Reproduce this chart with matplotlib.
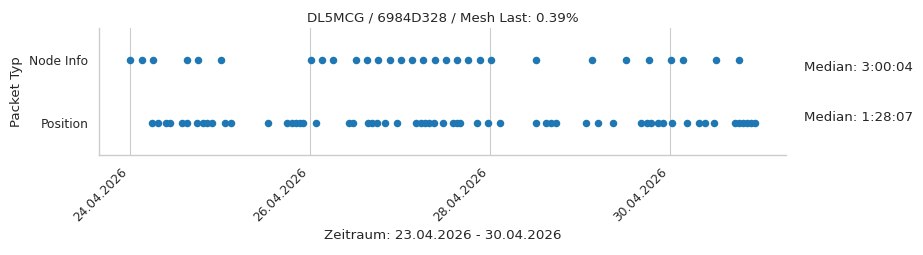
import matplotlib
matplotlib.use("Agg")
import matplotlib.pyplot as plt
import matplotlib.dates as mdates
import pandas as pd

categories = ["Node Info", "Position"]

node_info_times = [
    "2026-04-24 00:05", "2026-04-24 03:17", "2026-04-24 06:13", "2026-04-24 15:17",
    "2026-04-24 18:13", "2026-04-25 00:21", "2026-04-26 00:21", "2026-04-26 03:17",
    "2026-04-26 06:13", "2026-04-26 12:21", "2026-04-26 15:17", "2026-04-26 18:13",
    "2026-04-26 21:25", "2026-04-27 00:21", "2026-04-27 03:17", "2026-04-27 06:13",
    "2026-04-27 09:25", "2026-04-27 12:21", "2026-04-27 15:17", "2026-04-27 18:13",
    "2026-04-27 21:25", "2026-04-28 00:21", "2026-04-28 12:21", "2026-04-29 03:17",
    "2026-04-29 12:21", "2026-04-29 18:29", "2026-04-30 00:21", "2026-04-30 03:33",
    "2026-04-30 12:16", "2026-04-30 18:29",
]

position_times = [
    "2026-04-24 05:57", "2026-04-24 07:23", "2026-04-24 09:31", "2026-04-24 10:45",
    "2026-04-24 13:52", "2026-04-24 15:17", "2026-04-24 17:57", "2026-04-24 19:33",
    "2026-04-24 20:37", "2026-04-24 21:57", "2026-04-25 01:25", "2026-04-25 02:51",
    "2026-04-25 12:53", "2026-04-25 17:57", "2026-04-25 19:07", "2026-04-25 20:16",
    "2026-04-25 21:25", "2026-04-25 22:13", "2026-04-26 01:41", "2026-04-26 10:29",
    "2026-04-26 11:28", "2026-04-26 15:33", "2026-04-26 16:43", "2026-04-26 18:03",
    "2026-04-26 20:05", "2026-04-26 23:17", "2026-04-27 04:27", "2026-04-27 05:41",
    "2026-04-27 06:40", "2026-04-27 07:49", "2026-04-27 09:04", "2026-04-27 11:33",
    "2026-04-27 14:13", "2026-04-27 15:17", "2026-04-27 16:11", "2026-04-27 20:37",
    "2026-04-27 23:33", "2026-04-28 02:45", "2026-04-28 12:21", "2026-04-28 15:01",
    "2026-04-28 16:21", "2026-04-28 17:41", "2026-04-29 01:41", "2026-04-29 04:53",
    "2026-04-29 08:53", "2026-04-29 16:21", "2026-04-29 17:57", "2026-04-29 19:01",
    "2026-04-29 20:59", "2026-04-29 22:13", "2026-04-30 00:37", "2026-04-30 04:37",
    "2026-04-30 07:49", "2026-04-30 09:25", "2026-04-30 11:49", "2026-04-30 17:25",
    "2026-04-30 18:29", "2026-04-30 19:33", "2026-04-30 20:37", "2026-04-30 21:41",
    "2026-04-30 22:45",
]

medians = ["3:00:04", "1:28:07"]
title = "DL5MCG / 6984D328 / Mesh Last: 0.39%"
xlabel = "Zeitraum: 23.04.2026 - 30.04.2026"
ylabel = "Packet Typ"

text_color = "#262626"
dot_color = "#1f77b4"
grid_color = "#cccccc"

DPI = 80
fig = plt.figure(figsize=(923 / DPI, 255 / DPI), dpi=DPI)
ax = fig.add_axes([0.1073, 0.392, 0.7443, 0.498])

series = [node_info_times, position_times]
for i, times in enumerate(series):
    t = pd.to_datetime(times)
    ax.scatter(t, [i] * len(t), s=46, color=dot_color, linewidths=0, zorder=3)

ax.set_ylim(1.5, -0.5)
ax.set_yticks(range(len(categories)))
ax.set_yticklabels(categories)
ax.margins(x=0.05)

ax.xaxis.set_major_locator(mdates.DayLocator(bymonthday=[24, 26, 28, 30]))
ax.xaxis.set_major_formatter(mdates.DateFormatter("%d.%m.%Y"))
for lbl in ax.get_xticklabels():
    lbl.set_rotation(45)
    lbl.set_ha("right")

ax.grid(axis="x", color=grid_color, linewidth=1)
ax.set_axisbelow(True)
ax.tick_params(axis="both", length=0, labelsize=11, colors=text_color, pad=9.5)
for side in ["top", "right"]:
    ax.spines[side].set_visible(False)
for side in ["left", "bottom"]:
    ax.spines[side].set_color(grid_color)
    ax.spines[side].set_linewidth(1.25)

ax.set_title(title, fontsize=12, color=text_color, pad=6)
ax.set_xlabel(xlabel, fontsize=12, color=text_color, labelpad=4)
ax.set_ylabel(ylabel, fontsize=12, color=text_color, labelpad=6)

for i, m in enumerate(medians):
    ax.text(1.026, 0.693 - i * 0.394, f"Median: {m}", transform=ax.transAxes,
            fontsize=12, color=text_color, va="center", ha="left")

fig.savefig("out.png", dpi=DPI)
